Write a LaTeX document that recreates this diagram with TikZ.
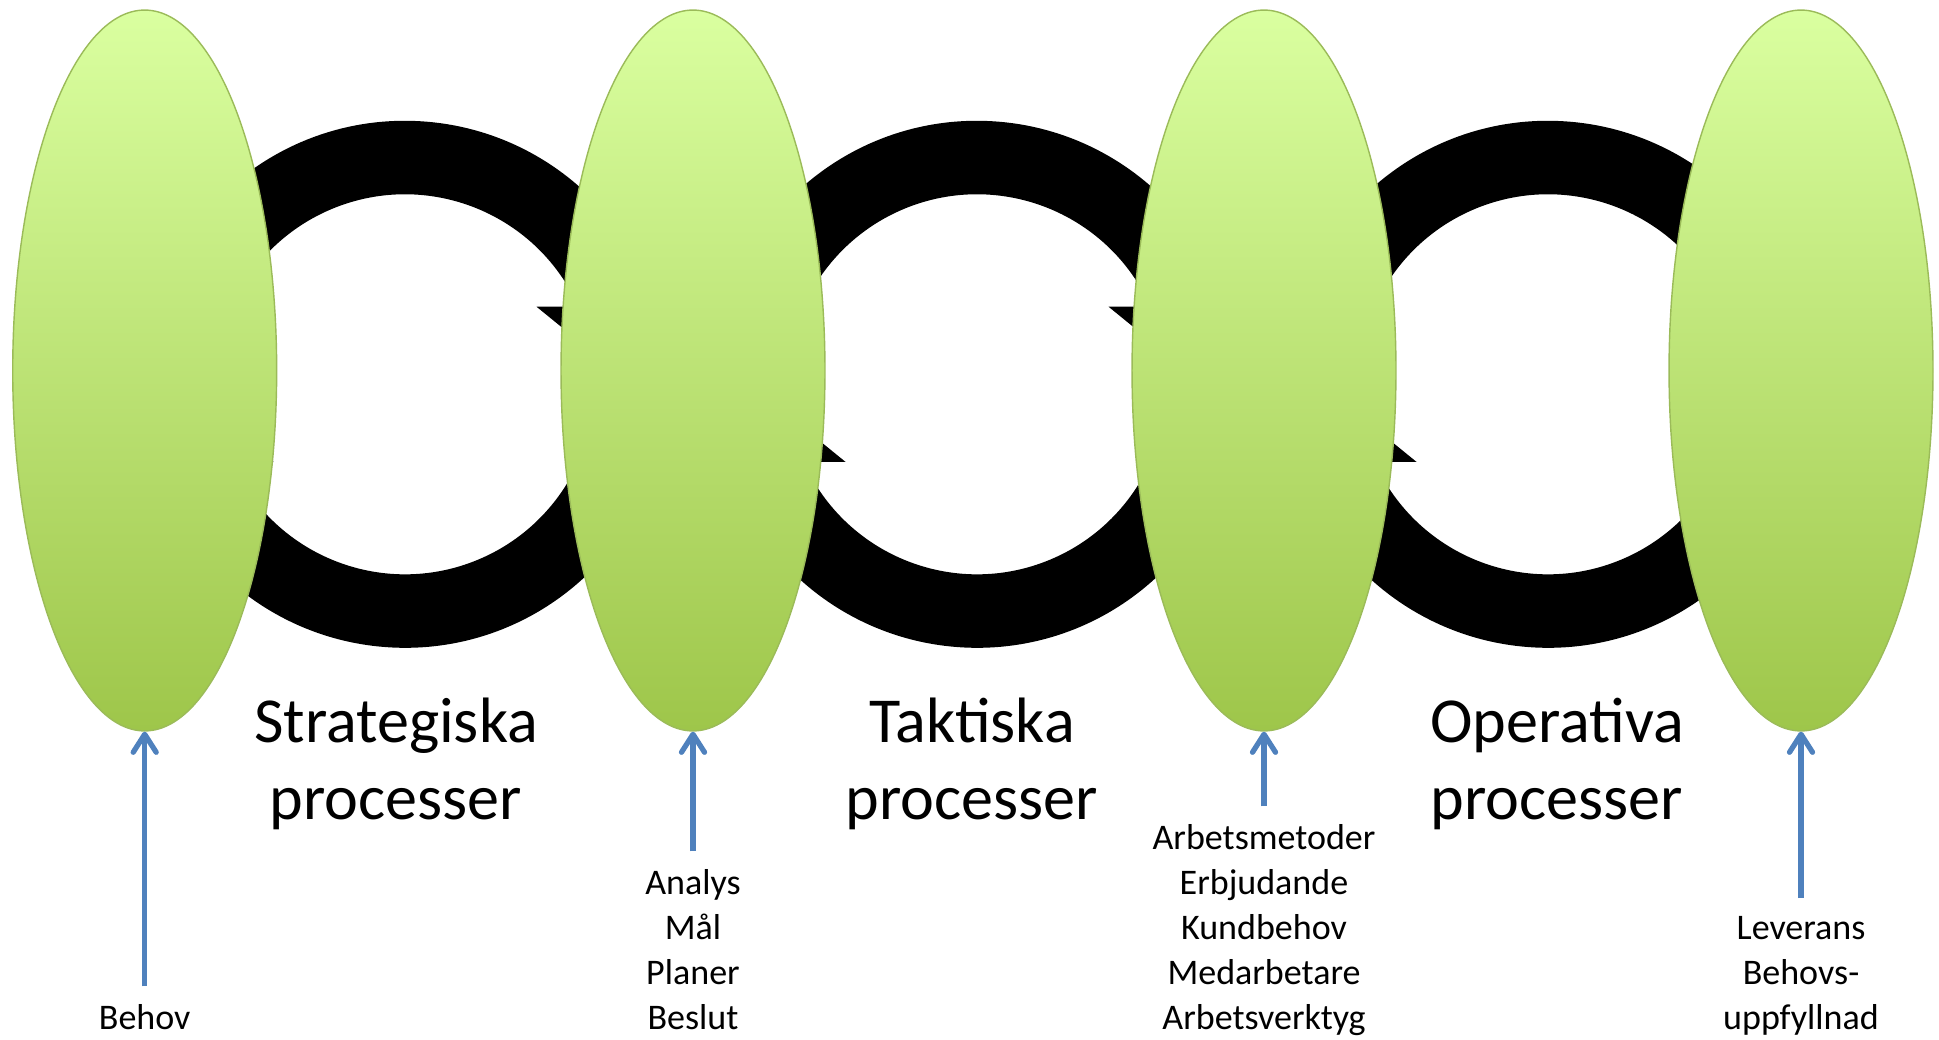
\documentclass[tikz,border=0pt]{standalone}
\usepackage{fontspec}
\setmainfont{Carlito}
\usetikzlibrary{shapes.geometric,arrows.meta}
\definecolor{leafTop}{RGB}{218,255,160}
\definecolor{leafBottom}{RGB}{158,198,74}
\definecolor{leafLine}{RGB}{155,187,89}
\definecolor{feedBlue}{RGB}{79,129,189}
\begin{document}
\begin{tikzpicture}[x=0.02cm,y=0.02cm,
  phase/.style={ellipse,minimum width=5.28cm,minimum height=14.42cm,inner sep=0pt,
    draw=leafLine,line width=0.8pt,top color=leafTop,bottom color=leafBottom},
  feed/.style={draw=feedBlue,line width=3pt,-{Straight Barb[length=3.6mm,width=4.6mm,round]}},
  title/.style={font=\fontsize{36.5}{44}\selectfont,align=center,anchor=south,inner sep=0pt,text depth=0pt},
  note/.style={font=\fontsize{20.5}{25.6}\selectfont,align=center,anchor=south,inner sep=0pt,text depth=0pt}]
 \useasboundingbox (0,0) rectangle (1939,1039);
 % black cycle arrows behind the phases
 \foreach \cx in {405,977,1548} {
  \begin{scope}[shift={(\cx,654.7)}]
   \foreach \rot in {0,180} {
     \fill[black,rotate=\rot] (175:263.5) arc[start angle=175,end angle=17.13,radius=263.5]
       -- (322,77.6) -- (226.75,0) -- (131.5,77.6) -- (24.1:190)
       arc[start angle=24.1,end angle=175,radius=190] -- cycle;
   }
  \end{scope}
 }
 \node[phase,name=need] at (144.7,668.5) {};
 \node[phase,name=plan] at (693,668.5) {};
 \node[phase,name=work] at (1264,668.5) {};
 \node[phase,name=deliver] at (1801,668.5) {};
 \node[title] at (396,219) {Strategiska\\processer};
 \node[title] at (972,219) {Taktiska\\processer};
 \node[title] at (1557,219) {Operativa\\processer};
 \node[note,name=needtxt] at (144.7,9) {Behov};
 \node[note,name=plantxt] at (693,9) {Analys\\Mål\\Planer\\Beslut};
 \node[note,name=worktxt] at (1264,9) {Arbetsmetoder\\Erbjudande\\Kundbehov\\Medarbetare\\Arbetsverktyg};
 \node[note,name=delivertxt] at (1801,9) {Leverans\\Behovs-\\uppfyllnad};
 \draw[feed] ([yshift=0.36cm]needtxt.north) -- (need.south);
 \draw[feed] ([yshift=0.36cm]plantxt.north) -- (plan.south);
 \draw[feed] ([yshift=0.36cm]worktxt.north) -- (work.south);
 \draw[feed] ([yshift=0.36cm]delivertxt.north) -- (deliver.south);
\end{tikzpicture}
\end{document}
